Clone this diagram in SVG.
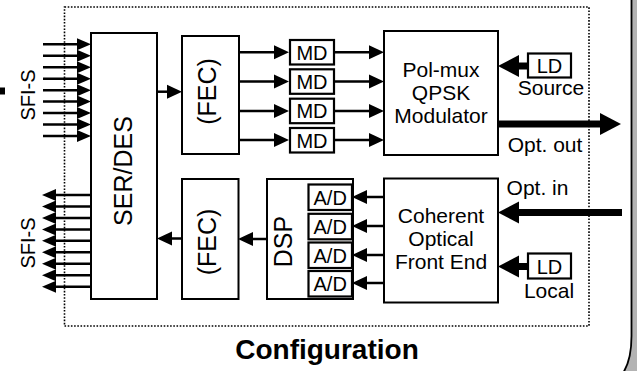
<svg xmlns="http://www.w3.org/2000/svg" width="637" height="371" viewBox="0 0 637 371">
<style>
.box{fill:#fff;stroke:#000;stroke-width:2}
.sbox{fill:#fff;stroke:#000;stroke-width:2.2}
.t{font-family:"Liberation Sans",Arial,sans-serif;font-size:21px;fill:#000;text-anchor:middle}
.s{font-size:20px}
.big{font-size:25px}
.title{font-size:28px;font-weight:bold}
.ln{stroke:#000;stroke-width:2.5;fill:none;marker-end:url(#ah)}
.sfi{stroke:#000;stroke-width:2.5;fill:none;marker-end:url(#ahs)}
.thick{stroke:#000;stroke-width:7;fill:none;marker-end:url(#ahb)}
</style>
<defs>
<marker id="ah" markerUnits="userSpaceOnUse" markerWidth="15" markerHeight="14" refX="0" refY="7" orient="auto" overflow="visible"><path d="M0,0 L15,7 L0,14 Z" fill="#000"/></marker>
<marker id="ahs" markerUnits="userSpaceOnUse" markerWidth="14" markerHeight="12" refX="0" refY="6" orient="auto" overflow="visible"><path d="M0,0 L14,6 L0,12 Z" fill="#000"/></marker>
<marker id="ahb" markerUnits="userSpaceOnUse" markerWidth="21" markerHeight="22" refX="0" refY="11" orient="auto" overflow="visible"><path d="M0,0 L21,11 L0,22 Z" fill="#000"/></marker>
</defs>
<rect width="637" height="371" fill="#fff"/>
<!-- frame -->
<path d="M631.5,-2 H640 V373 H623 Q631.5,360 631.5,336 Z" fill="#b3b3b3"/>
<path d="M631.5,-2 V336 Q631.5,360 623,373" fill="none" stroke="#000" stroke-width="1.8"/>
<rect x="0" y="87.5" width="5" height="7" fill="#000"/>
<!-- dotted boundary -->
<rect id="boundary" x="64.5" y="7" width="524.5" height="319" fill="none" stroke="#000" stroke-width="1.6" stroke-dasharray="1.6 1.6"/>

<g id="connectors">
<!-- SFI-S inputs -->
<path class="sfi" d="M43,44.3 H77"/>
<path class="sfi" d="M43,55.8 H77"/>
<path class="sfi" d="M43,67.2 H77"/>
<path class="sfi" d="M43,78.7 H77"/>
<path class="sfi" d="M43,90.2 H77"/>
<path class="sfi" d="M43,101.6 H77"/>
<path class="sfi" d="M43,113.1 H77"/>
<path class="sfi" d="M43,124.5 H77"/>
<path class="sfi" d="M43,136 H77"/>
<!-- SFI-S outputs -->
<path class="sfi" d="M91,195 H56"/>
<path class="sfi" d="M91,206.5 H56"/>
<path class="sfi" d="M91,217.9 H56"/>
<path class="sfi" d="M91,229.4 H56"/>
<path class="sfi" d="M91,240.8 H56"/>
<path class="sfi" d="M91,252.3 H56"/>
<path class="sfi" d="M91,263.8 H56"/>
<path class="sfi" d="M91,275.2 H56"/>
<path class="sfi" d="M91,286.7 H56"/>
<!-- TX path -->
<path class="ln" d="M157,91.7 H167"/>
<path class="ln" d="M239,52.3 H274"/>
<path class="ln" d="M239,81.5 H274"/>
<path class="ln" d="M239,111 H274"/>
<path class="ln" d="M239,140 H274"/>
<path class="ln" d="M334,52.3 H369"/>
<path class="ln" d="M334,81.5 H369"/>
<path class="ln" d="M334,111 H369"/>
<path class="ln" d="M334,140 H369"/>
<path class="thick" d="M528,66 H519"/>
<path class="thick" d="M498,124 H600"/>
<!-- RX path -->
<path class="thick" d="M622,212.5 H519"/>
<path class="thick" d="M528,266.5 H519"/>
<path class="ln" d="M384,197 H367"/>
<path class="ln" d="M384,226 H367"/>
<path class="ln" d="M384,255 H367"/>
<path class="ln" d="M384,283 H367"/>
<path class="ln" d="M267,239 H253"/>
<path class="ln" d="M182,238.5 H172"/>
</g>

<g id="sfi-in"><text class="t s" transform="translate(35,95) rotate(-90)">SFI-S</text></g>
<g id="sfi-out"><text class="t s" transform="translate(35,243) rotate(-90)">SFI-S</text></g>

<g id="serdes">
<rect class="box" x="91" y="33" width="66" height="266"/>
<text class="t big" transform="translate(132,171) rotate(-90)">SER/DES</text>
</g>

<g id="fec-tx">
<rect class="box" x="182" y="36" width="57" height="118"/>
<text class="t big" transform="translate(216,91.5) rotate(-90)">(FEC)</text>
</g>

<g id="md1"><rect class="sbox" x="290" y="40" width="44" height="24.5"/><text class="t s" x="312" y="59.5">MD</text></g>
<g id="md2"><rect class="sbox" x="290" y="69.3" width="44" height="24.5"/><text class="t s" x="312" y="88.8">MD</text></g>
<g id="md3"><rect class="sbox" x="290" y="98.7" width="44" height="24.5"/><text class="t s" x="312" y="118.2">MD</text></g>
<g id="md4"><rect class="sbox" x="290" y="128" width="44" height="24.5"/><text class="t s" x="312" y="147.5">MD</text></g>

<g id="modulator">
<rect class="box" x="384" y="31" width="114" height="124"/>
<text class="t" x="441" y="77">Pol-mux</text>
<text class="t" x="441" y="100">QPSK</text>
<text class="t" x="441" y="123">Modulator</text>
</g>

<g id="ld-source">
<rect class="sbox" x="528" y="53.5" width="43" height="24"/>
<text class="t s" x="549.5" y="73">LD</text>
<text class="t" x="551" y="95">Source</text>
</g>

<g id="opt-out"><text class="t" x="545" y="151.7">Opt. out</text></g>
<g id="opt-in"><text class="t" x="537.5" y="195">Opt. in</text></g>

<g id="fec-rx">
<rect class="box" x="182" y="179" width="56.5" height="120"/>
<text class="t big" transform="translate(216,242) rotate(-90)">(FEC)</text>
</g>

<g id="dsp">
<rect class="box" x="267" y="179" width="86" height="120"/>
<text class="t big" transform="translate(291.5,241.5) rotate(-90)">DSP</text>
</g>

<g id="ad1"><rect class="sbox" x="308.5" y="184.5" width="43.5" height="25.5"/><text class="t s" x="330.2" y="204.5">A/D</text></g>
<g id="ad2"><rect class="sbox" x="308.5" y="213.8" width="43.5" height="25.5"/><text class="t s" x="330.2" y="233.8">A/D</text></g>
<g id="ad3"><rect class="sbox" x="308.5" y="242.5" width="43.5" height="25.5"/><text class="t s" x="330.2" y="262.5">A/D</text></g>
<g id="ad4"><rect class="sbox" x="308.5" y="271" width="43.5" height="25.5"/><text class="t s" x="330.2" y="291">A/D</text></g>

<g id="frontend">
<rect class="box" x="384" y="178.5" width="114" height="124"/>
<text class="t" x="441" y="223">Coherent</text>
<text class="t" x="441" y="245.5">Optical</text>
<text class="t" x="441" y="268.5">Front End</text>
</g>

<g id="ld-local">
<rect class="sbox" x="528" y="253.5" width="43" height="25"/>
<text class="t s" x="549.5" y="273.5">LD</text>
<text class="t" x="549" y="297.5">Local</text>
</g>

<g id="title"><text class="t title" x="327" y="359">Configuration</text></g>
</svg>
